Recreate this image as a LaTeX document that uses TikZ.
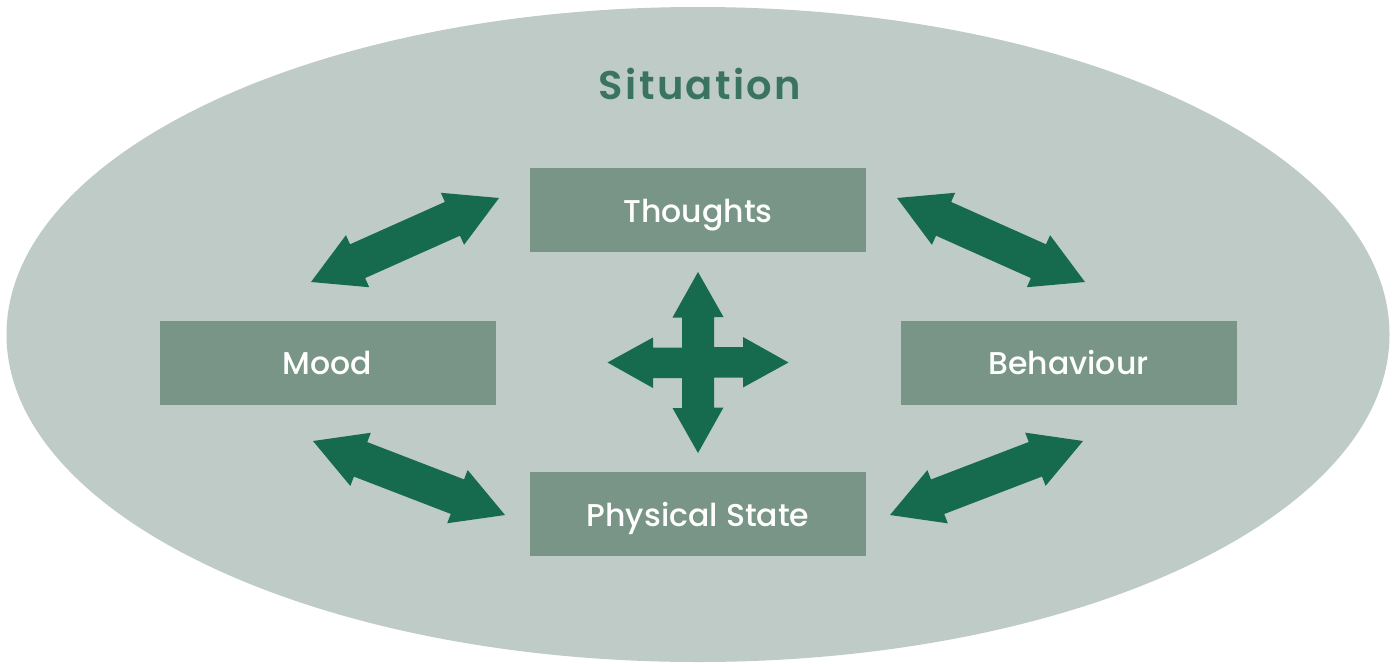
\documentclass[tikz,border=0pt]{standalone}
\usepackage{fontspec}
\setmainfont{Poppins}
\newfontfamily\labelfont{Poppins Medium}
\newfontfamily\titlefont[LetterSpace=6]{Poppins SemiBold}
\usetikzlibrary{calc}
\definecolor{ellfill}{HTML}{BECBC6}
\definecolor{boxfill}{HTML}{789587}
\definecolor{arrfill}{HTML}{166B4F}
\definecolor{titlecol}{HTML}{3A7460}
\tikzset{
  box/.style={fill=boxfill, minimum width=336pt, minimum height=84pt, inner sep=0pt,
    text height=24pt, text depth=0pt, text=white, font=\labelfont\fontsize{31.5}{34}\selectfont},
  arr/.style={fill=arrfill}
}
\newcommand\dblarr[2]{%
  \fill[arr] (#1)
    -- ($($(#1)!51pt!(#2)$)!28.5pt!90:(#2)$)
    -- ($($(#1)!51pt!(#2)$)!18.5pt!90:(#2)$)
    -- ($($(#2)!51pt!(#1)$)!18.5pt!-90:(#1)$)
    -- ($($(#2)!51pt!(#1)$)!28.5pt!-90:(#1)$)
    -- (#2)
    -- ($($(#2)!51pt!(#1)$)!28.5pt!90:(#1)$)
    -- ($($(#2)!51pt!(#1)$)!18.5pt!90:(#1)$)
    -- ($($(#1)!51pt!(#2)$)!18.5pt!-90:(#2)$)
    -- ($($(#1)!51pt!(#2)$)!28.5pt!-90:(#2)$)
    -- cycle;}
\begin{document}
\begin{tikzpicture}[x=1pt,y=-1pt]
\useasboundingbox (0,0) rectangle (1393,664);
\fill[ellfill] (698,334.5) ellipse [x radius=691.5pt, y radius=327.5pt];
\node[text=titlecol, font=\titlefont\fontsize{40}{46}\selectfont, anchor=base] (sit) at (700,99) {Situation};
\node[box] (th) at (698,210) {Thoughts};
\node[box] (mo) at (327.5,362.5) {Mood};
\node[box] (be) at (1068.5,362.5) {Behaviour};
\node[box] (ps) at (698,514) {Physical State};
% diagonal double arrows
\coordinate (a1) at (311,282); \coordinate (a2) at (499,198);
\coordinate (b1) at (897,198); \coordinate (b2) at (1085,282);
\coordinate (c1) at (313,441); \coordinate (c2) at (505,515);
\coordinate (d1) at (890,515); \coordinate (d2) at (1083,441);
\dblarr{a1}{a2}
\dblarr{b1}{b2}
\dblarr{c1}{c2}
\dblarr{d1}{d2}
% central four-way arrow
\coordinate (cx) at (698,362.5);
\fill[arr] ($(cx)+(0,-90.5)$) -- ++(25.5,45) -- ++(-9.5,0) -- ++(0,30) -- ++(29,0) -- ++(0,-10)
  -- ($(cx)+(90.5,0)$) -- ++(-45.5,25) -- ++(0,-10) -- ++(-29,0) -- ++(0,30) -- ++(9.5,0)
  -- ($(cx)+(0,90.5)$) -- ++(-25.5,-45) -- ++(9.5,0) -- ++(0,-30) -- ++(-29,0) -- ++(0,10)
  -- ($(cx)+(-90.5,0)$) -- ++(45.5,-25) -- ++(0,10) -- ++(29,0) -- ++(0,-30) -- ++(-9.5,0) -- cycle;
\end{tikzpicture}
\end{document}
